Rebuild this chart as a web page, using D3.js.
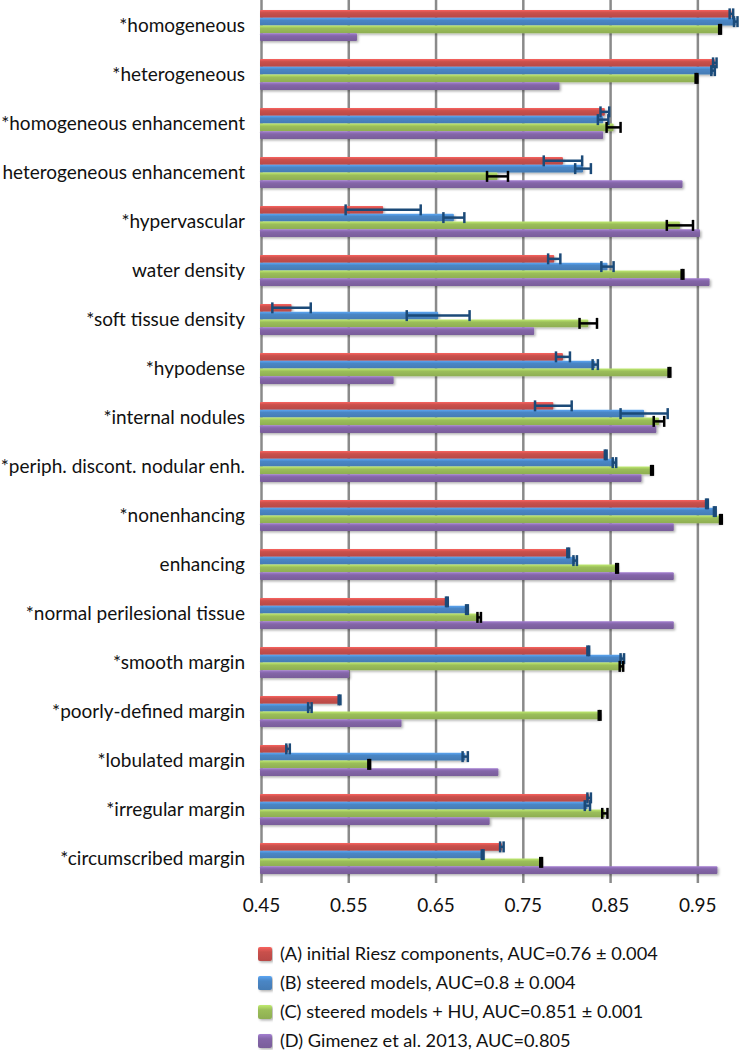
<!DOCTYPE html>
<html><head><meta charset="utf-8">
<script src="https://cdn.jsdelivr.net/npm/d3@7"></script>
<style>body{margin:0;background:#fff} text{font-family:Lato, "Open Sans", sans-serif;fill:#111}</style>
</head><body><svg id="c" width="744" height="1050"></svg>
<script>
const categories = ["*homogeneous","*heterogeneous","*homogeneous enhancement","heterogeneous enhancement","*hypervascular","water density","*soft tissue density","*hypodense","*internal nodules","*periph. discont. nodular enh.","*nonenhancing","enhancing","*normal perilesional tissue","*smooth margin","*poorly-defined margin","*lobulated margin","*irregular margin","*circumscribed margin"];
const seriesNames = ["(A) initial Riesz components, AUC=0.76 ± 0.004","(B) steered models, AUC=0.8 ± 0.004","(C) steered models + HU, AUC=0.851 ± 0.001","(D) Gimenez et al. 2013, AUC=0.805"];
const valuesA = [0.989,0.970,0.844,0.796,0.590,0.786,0.485,0.796,0.785,0.845,0.961,0.802,0.663,0.825,0.540,0.481,0.826,0.726];
const valuesB = [0.994,0.968,0.842,0.819,0.671,0.847,0.653,0.833,0.889,0.855,0.970,0.810,0.686,0.864,0.506,0.684,0.824,0.704];
const valuesC = [0.976,0.949,0.854,0.721,0.930,0.933,0.825,0.918,0.906,0.898,0.977,0.858,0.700,0.863,0.838,0.574,0.844,0.771];
const valuesD = [0.560,0.792,0.842,0.933,0.953,0.964,0.763,0.602,0.903,0.886,0.923,0.923,0.923,0.551,0.611,0.722,0.712,0.973];
const errA = [0.002,0.002,0.005,0.022,0.043,0.007,0.022,0.008,0.021,0.001,0.001,0.001,0.001,0.001,0.001,0.002,0.002,0.002];
const errB = [0.002,0.002,0.006,0.009,0.012,0.007,0.036,0.003,0.027,0.002,0.001,0.002,0.001,0.002,0.002,0.003,0.003,0.001];
const errC = [0.001,0.001,0.008,0.012,0.015,0.001,0.010,0.001,0.006,0.001,0.001,0.001,0.002,0.002,0.001,0.001,0.003,0.001];
const tickValues = [0.45,0.55,0.65,0.75,0.85,0.95];
const colors = ["#C9504C","#4A86C5","#9BBE5A","#8466A8"];
const errColors = ["#1B4A78","#1B4A78","#000000"];

const svg = d3.select("#c");
const pLeft = 261, pRight = 741, pTop = 1, pBottom = 883;
const x = d3.scaleLinear().domain([0.45, 1.0]).range([pLeft, pRight]);
const y = d3.scaleBand().domain(categories).range([pTop, pBottom]).paddingInner(0.367).paddingOuter(0.1835);
const keys = ["A","B","C","D"];
const yS = d3.scaleBand().domain(keys).range([0, y.bandwidth()]);

const defs = svg.append("defs");
colors.forEach((c, i) => {
  const g = defs.append("linearGradient").attr("id", "g" + i).attr("x1", 0).attr("y1", 0).attr("x2", 0).attr("y2", 1);
  const col = d3.color(c);
  g.append("stop").attr("offset", "0%").attr("stop-color", col.brighter(0.6));
  g.append("stop").attr("offset", "35%").attr("stop-color", col);
  g.append("stop").attr("offset", "100%").attr("stop-color", col.darker(0.25));
});
const f = defs.append("filter").attr("id", "sh").attr("x", "-5%").attr("y", "-50%").attr("width", "110%").attr("height", "250%");
f.append("feDropShadow").attr("dx", 1.5).attr("dy", 1.5).attr("stdDeviation", 1).attr("flood-color", "#000").attr("flood-opacity", 0.3);

// gridlines
svg.append("g").attr("transform", `translate(0,${pBottom})`)
  .call(d3.axisBottom(x).tickValues(tickValues).tickSize(-(pBottom - pTop + 1)).tickFormat(""))
  .call(g => g.select(".domain").remove())
  .call(g => g.selectAll("line").attr("stroke", "#8a8a8a").attr("stroke-width", 2.5));

// tick labels
svg.append("g").attr("transform", `translate(0,${pBottom + 12})`)
  .call(d3.axisBottom(x).tickValues(tickValues).tickSize(0).tickFormat(d3.format(".2f")))
  .call(g => g.select(".domain").remove())
  .call(g => g.selectAll("text").style("font-size", "19px").style("font-family", "Lato, sans-serif").attr("dy", "0.71em").attr("fill", "#111"));

// category labels
svg.append("g").selectAll("text").data(categories).join("text")
  .attr("x", 245).attr("y", d => y(d) + y.bandwidth() / 2).attr("dy", "0.35em")
  .attr("text-anchor", "end").style("font-size", "19px").text(d => d);

const series = [valuesA, valuesB, valuesC, valuesD];
const errs = [errA, errB, errC];
const barG = svg.append("g").attr("filter", "url(#sh)");
series.forEach((vals, si) => {
  barG.append("g").selectAll("rect").data(categories).join("rect")
    .attr("x", x(0.45) - 1)
    .attr("y", (d) => y(d) + yS(keys[si]))
    .attr("width", (d, i) => x(vals[i]) - x(0.45) + 1)
    .attr("height", yS.bandwidth())
    .attr("rx", 1)
    .attr("fill", `url(#g${si})`);
});

// error bars
errs.forEach((e, si) => {
  const vals = series[si];
  const g = svg.append("g").attr("stroke", errColors[si]).attr("stroke-width", 2.5);
  categories.forEach((c, i) => {
    const cy = y(c) + yS(keys[si]) + yS.bandwidth() / 2;
    const x0 = x(vals[i] - e[i]), x1 = x(vals[i] + e[i]);
    g.append("line").attr("x1", x0).attr("x2", x1).attr("y1", cy).attr("y2", cy);
    g.append("line").attr("x1", x0).attr("x2", x0).attr("y1", cy - 5.5).attr("y2", cy + 5.5);
    g.append("line").attr("x1", x1).attr("x2", x1).attr("y1", cy - 5.5).attr("y2", cy + 5.5);
  });
});

// legend
const lg = svg.append("g");
seriesNames.forEach((n, i) => {
  const cy = 954 + i * 29;
  lg.append("rect").attr("x", 258).attr("y", cy - 7).attr("width", 14).attr("height", 14).attr("rx", 2)
    .attr("fill", `url(#g${i})`).attr("filter", "url(#sh)");
  lg.append("text").attr("x", 280).attr("y", cy).attr("dy", "0.35em").style("font-size", "18.2px").text(n);
});
</script></body></html>
